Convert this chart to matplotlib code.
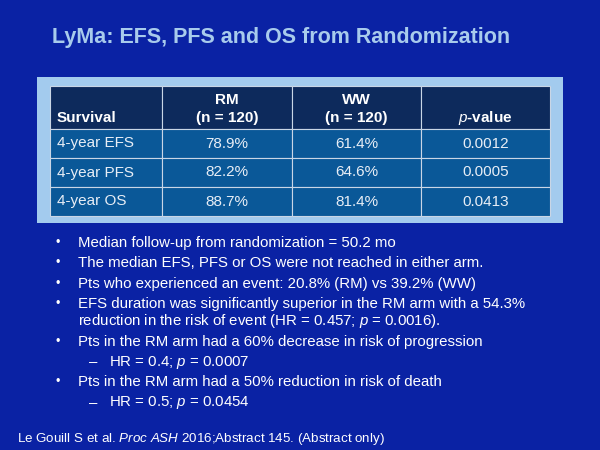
import matplotlib.pyplot as plt
from matplotlib.patches import Rectangle

plt.rcParams['font.family'] = ['Liberation Sans', 'DejaVu Sans']
plt.rcParams['mathtext.fontset'] = 'custom'
plt.rcParams['mathtext.rm'] = 'Liberation Sans'
plt.rcParams['mathtext.it'] = 'Liberation Sans:italic'
plt.rcParams['mathtext.bf'] = 'Liberation Sans:bold'

# 数据
title = 'LyMa: EFS, PFS and OS from Randomization'
col_headers = ['Survival', 'RM\n(n = 120)', 'WW\n(n = 120)', 'p-value']
row_labels = ['4-year EFS', '4-year PFS', '4-year OS']
rm_values = ['78.9%', '82.2%', '88.7%']
ww_values = ['61.4%', '64.6%', '81.4%']
p_values = ['0.0012', '0.0005', '0.0413']

# 级别: 0 = 圆点, 1 = 破折号子项, 2 = 上一条的续行
bullets = [
    (0, 'Median follow-up from randomization = 50.2 mo'),
    (0, 'The median EFS, PFS or OS were not reached in either arm.'),
    (0, 'Pts who experienced an event: 20.8% (RM) vs 39.2% (WW)'),
    (0, 'EFS duration was significantly superior in the RM arm with a 54.3%'),
    (2, r'reduction in the risk of event (HR = 0.457; $\mathit{p}$ = 0.0016).'),
    (0, 'Pts in the RM arm had a 60% decrease in risk of progression'),
    (1, r'HR = 0.4; $\mathit{p}$ = 0.0007'),
    (0, 'Pts in the RM arm had a 50% reduction in risk of death'),
    (1, r'HR = 0.5; $\mathit{p}$ = 0.0454'),
]
footer = r'Le Gouill S et al. $\mathit{Proc\ ASH}$ 2016;Abstract 145. (Abstract only)'

# 布局
bg = '#0a22a4'
fig = plt.figure(figsize=(6, 4.5), dpi=100, facecolor=bg)
ax = fig.add_axes([0, 0, 1, 1])
ax.set_xlim(0, 600)
ax.set_ylim(450, 0)
ax.axis('off')

ax.text(52, 38, title, fontsize=15.5, fontweight='bold', color='#a8cbec',
        va='center', ha='left')

# 表格外框
ax.add_patch(Rectangle((37, 77), 526, 146, facecolor='#a3cbee', edgecolor='none'))

col_x = [50, 162, 292, 421, 550]
row_y = [86, 129, 158, 187, 216]
border = '#c9d6e6'
fs_tab = 11

# 表头
for j, h in enumerate(col_headers):
    x0, x1 = col_x[j], col_x[j + 1]
    ax.add_patch(Rectangle((x0, row_y[0]), x1 - x0, row_y[1] - row_y[0],
                           facecolor='#0d2a5c', edgecolor=border, lw=0.8))
    if j == 0:
        ax.text(x0 + 7, 118, h, fontsize=fs_tab, fontweight='bold', color='white',
                ha='left', va='center')
    elif '\n' in h:
        top, bottom = h.split('\n')
        ax.text((x0 + x1) / 2, 100, top, fontsize=fs_tab, fontweight='bold',
                color='white', ha='center', va='center')
        ax.text((x0 + x1) / 2, 118, bottom, fontsize=fs_tab, fontweight='bold',
                color='white', ha='center', va='center')
    else:
        ax.text((x0 + x1) / 2, 118, r'$\mathit{p}$' + h[1:], fontsize=fs_tab,
                fontweight='bold', color='white', ha='center', va='center')

# 表体
for i in range(len(row_labels)):
    cells = [row_labels[i], rm_values[i], ww_values[i], p_values[i]]
    y0, y1 = row_y[i + 1], row_y[i + 2]
    for j, c in enumerate(cells):
        x0, x1 = col_x[j], col_x[j + 1]
        ax.add_patch(Rectangle((x0, y0), x1 - x0, y1 - y0,
                               facecolor='#0a5898', edgecolor=border, lw=0.8))
        if j == 0:
            ax.text(x0 + 7, (y0 + y1) / 2, c, fontsize=fs_tab, color='#e8eef6',
                    ha='left', va='center')
        else:
            ax.text((x0 + x1) / 2, (y0 + y1) / 2, c, fontsize=fs_tab, color='#e8eef6',
                    ha='center', va='center')

# 要点列表
fs_b = 10.8
y = 243
for k, (level, txt) in enumerate(bullets):
    if k > 0:
        y += 17.5 if level == 2 else 20.3
    if level == 0:
        ax.text(58, y, '•', fontsize=9, color='white', ha='center', va='center')
        ax.text(78, y, txt, fontsize=fs_b, color='white', ha='left', va='center')
    elif level == 2:
        ax.text(78, y, txt, fontsize=fs_b, color='white', ha='left', va='center')
    else:
        ax.text(89, y, '–', fontsize=fs_b, color='white', ha='left', va='center')
        ax.text(109, y, txt, fontsize=fs_b, color='white', ha='left', va='center')

ax.text(17, 439, footer, fontsize=9.6, color='white', ha='left', va='center')

fig.savefig('out.png', dpi=100, facecolor=bg)
